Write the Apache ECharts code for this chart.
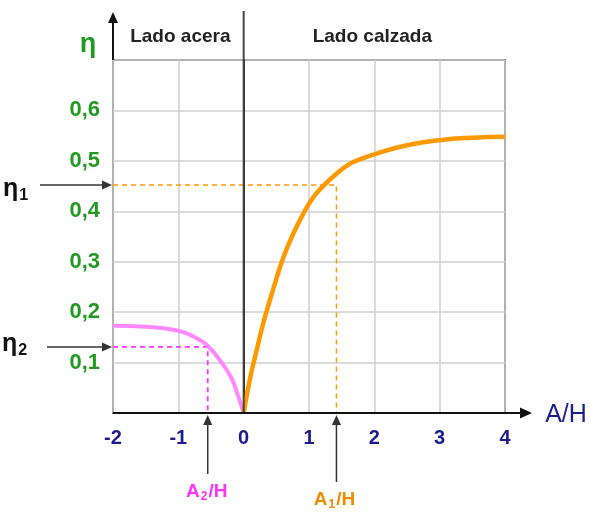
<!DOCTYPE html>
<html>
<head>
<meta charset="utf-8">
<title>Lado acera / Lado calzada</title>
<script src="https://cdn.jsdelivr.net/npm/echarts@6/dist/echarts.min.js"></script>
<style>
  html, body { margin: 0; padding: 0; background: #fff; }
  #chart { width: 590px; height: 530px; }
</style>
</head>
<body>
<div id="chart"></div>
<script>
// curva lado calzada (A/H > 0)
const calzadaX = [0, 0.1, 0.2, 0.3, 0.4, 0.5, 0.6, 0.75, 0.9, 1.05, 1.2, 1.4, 1.6, 1.8, 2, 2.5, 3, 3.5, 4];
const calzadaY = [0, 0.07, 0.125, 0.178, 0.223, 0.266, 0.306, 0.353, 0.392, 0.425, 0.448, 0.472, 0.492, 0.504, 0.513, 0.531, 0.541, 0.546, 0.548];
// curva lado acera (A/H < 0)
const aceraX = [-2, -1.5, -1, -0.7, -0.55, -0.35, -0.19, -0.09, 0];
const aceraY = [0.173, 0.171, 0.163, 0.147, 0.133, 0.102, 0.07, 0.036, 0];
// puntos de lectura
const eta1 = 0.452, a1 = 1.42;
const eta2 = 0.131, a2 = -0.55;
const sideLabels = ['Lado acera', 'Lado calzada'];

const FONT = '"Liberation Sans", Arial, sans-serif';
const GREEN = '#229a22';
const NAVY = '#1c1c8e';
const ORANGE = '#ff9900';
const PINK = '#ff88ff';
const MAGENTA = '#ff33ff';

const chart = echarts.init(document.getElementById('chart'));

function pairs(xs, ys) {
  return xs.map((x, i) => [x, ys[i]]);
}

chart.setOption({
  animation: false,
  backgroundColor: '#fff',
  grid: {
    left: 113, right: 85, top: 60, bottom: 117,
    show: true, borderColor: '#555', borderWidth: 2
  },
  xAxis: {
    type: 'value', min: -2, max: 4, interval: 1,
    axisLine: { show: false },
    axisTick: { show: false },
    splitLine: { lineStyle: { color: '#d0d0d0', width: 1.5 } },
    axisLabel: {
      margin: 15, color: NAVY, fontFamily: FONT, fontWeight: 'bold', fontSize: 20,
      formatter: v => String(v)
    }
  },
  yAxis: {
    type: 'value', min: 0, max: 0.7, interval: 0.1,
    axisLine: { show: true, lineStyle: { color: '#222', width: 2 } },
    axisTick: { show: false },
    splitLine: { lineStyle: { color: '#d0d0d0', width: 1.5 } },
    axisLabel: {
      margin: 13, color: GREEN, fontFamily: FONT, fontWeight: 'bold', fontSize: 22,
      formatter: v => (v > 0.05 && v < 0.65) ? v.toFixed(1).replace('.', ',') : ''
    }
  },
  series: [
    {
      type: 'line', symbol: 'none', z: 2,
      lineStyle: { color: ORANGE, width: 1.5, type: [5, 4] },
      data: [[-2, eta1], [a1, eta1], [a1, 0]]
    },
    {
      type: 'line', symbol: 'none', z: 2,
      lineStyle: { color: MAGENTA, width: 1.8, type: [5, 4] },
      data: [[-2, eta2], [a2, eta2], [a2, 0]]
    },
    {
      type: 'line', symbol: 'none', smooth: 0.5, z: 3,
      lineStyle: { color: PINK, width: 4 },
      data: pairs(aceraX, aceraY)
    },
    {
      type: 'line', symbol: 'none', smooth: 0.5, z: 3,
      lineStyle: { color: ORANGE, width: 4.5 },
      data: pairs(calzadaX, calzadaY)
    }
  ]
});

// anotaciones: flechas, textos
const px = (x, y) => chart.convertToPixel({ gridIndex: 0 }, [x, y]);
const o = px(-2, 0);
const topLeft = px(-2, 0.7);
const zero = px(0, 0);
const right = px(4, 0);

function arrow(x1, y1, x2, y2, color, width, size) {
  const ang = Math.atan2(y2 - y1, x2 - x1);
  const s = size || 9;
  const w = s * 0.45;
  const bx = x2 - Math.cos(ang) * s, by = y2 - Math.sin(ang) * s;
  const nx = -Math.sin(ang) * w, ny = Math.cos(ang) * w;
  return [
    { type: 'line', z: 50, shape: { x1: x1, y1: y1, x2: bx, y2: by }, style: { stroke: color, lineWidth: width } },
    { type: 'polygon', z: 50, shape: { points: [[x2, y2], [bx + nx, by + ny], [bx - nx, by - ny]] }, style: { fill: color } }
  ];
}

function text(x, y, str, style) {
  return {
    type: 'text', z: 60, x: x, y: y,
    style: Object.assign({ text: str, fontFamily: FONT, align: 'center', verticalAlign: 'middle' }, style)
  };
}

function subText(x, y, main, sub, tail, size, color, align) {
  return {
    type: 'text', z: 60, x: x, y: y,
    style: {
      text: '{a|' + main + '}{s|' + sub + '}' + (tail ? '{a|' + tail + '}' : ''),
      align: align, verticalAlign: 'middle',
      rich: {
        a: { fontFamily: FONT, fontSize: size, fontWeight: 'bold', fill: color },
        s: { fontFamily: FONT, fontSize: Math.round(size * 0.62), fontWeight: 'bold', fill: color,
             padding: [Math.round(size * 0.5), 1, 0, 1] }
      }
    }
  };
}

const headY = (topLeft[1] + 12) / 2 + 1;
const e1 = px(-2, eta1), e2 = px(-2, eta2);
const p1 = px(a1, 0), p2 = px(a2, 0);

const g = [].concat(
  // eje Y con flecha
  arrow(o[0], topLeft[1], o[0], 12, '#111', 2, 11),
  // eje X con flecha
  arrow(o[0], o[1], right[0] + 27, o[1], '#111', 2, 12),
  // linea vertical en A/H = 0
  [{ type: 'line', z: 40, shape: { x1: zero[0], y1: zero[1], x2: zero[0], y2: 11 }, style: { stroke: '#444', lineWidth: 2 } }],
  // flechas de lectura
  arrow(40, e1[1], e1[0] - 1, e1[1], '#333', 1.5, 10),
  arrow(47, e2[1], e2[0] - 1, e2[1], '#333', 1.5, 10),
  arrow(p2[0], 474, p2[0], p2[1] + 2, '#333', 1.5, 10),
  arrow(p1[0], 482, p1[0], p1[1] + 2, '#333', 1.5, 10),
  [
    text((o[0] + zero[0]) / 2 + 2, headY, sideLabels[0], { fontSize: 19, fontWeight: 'bold', fill: '#222' }),
    text((zero[0] + right[0]) / 2 - 2, headY, sideLabels[1], { fontSize: 19, fontWeight: 'bold', fill: '#222' }),
    text(88, 45, 'η', { fontSize: 27, fontWeight: 'bold', fill: GREEN }),
    text(right[0] + 61, o[1] + 2, 'A/H', { fontSize: 25, fill: NAVY }),
    subText(3, e1[1] + 4, 'η', '1', '', 25, '#111', 'left'),
    subText(2, e2[1] - 3, 'η', '2', '', 25, '#111', 'left'),
    subText(p2[0] - 1, 492, 'A', '2', '/H', 19, MAGENTA, 'center'),
    subText(p1[0] - 2, 500, 'A', '1', '/H', 19, '#f08c00', 'center')
  ]
);

chart.setOption({ graphic: g });
</script>
</body>
</html>
